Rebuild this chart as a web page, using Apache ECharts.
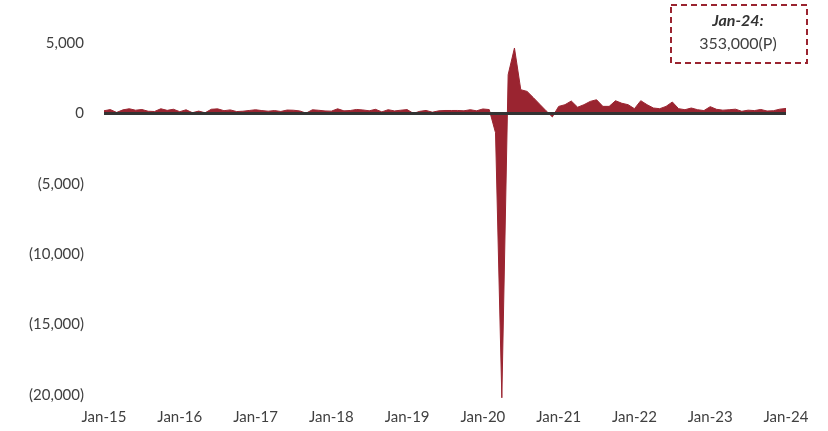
<!DOCTYPE html>
<html>
<head>
<meta charset="utf-8">
<script src="https://cdn.jsdelivr.net/npm/echarts@6/dist/echarts.min.js"></script>
<style>
  html, body { margin: 0; padding: 0; background: #fff; }
  #chart { width: 828px; height: 431px; }
</style>
</head>
<body>
<div id="chart"></div>
<script>
// monthly change, thousands
var years = ['15', '16', '17', '18', '19', '20', '21', '22', '23', '24'];
var monthNames = ['Jan', 'Feb', 'Mar', 'Apr', 'May', 'Jun', 'Jul', 'Aug', 'Sep', 'Oct', 'Nov', 'Dec'];

var values2015 = [190, 271, 70, 251, 330, 228, 277, 152, 136, 330, 215, 294];
var values2016 = [122, 256, 50, 164, 43, 294, 323, 193, 249, 131, 155, 208];
var values2017 = [259, 200, 158, 200, 138, 239, 225, 176, 18, 257, 222, 175];
var values2018 = [160, 328, 180, 207, 280, 244, 185, 289, 108, 263, 176, 227];
var values2019 = [269, 1, 147, 210, 85, 182, 207, 207, 208, 185, 261, 184];
var values2020 = [315, 273, -1373, -20200, 2750, 4645, 1683, 1563, 1115, 650, 190, -250];
var values2021 = [497, 618, 880, 440, 618, 852, 970, 500, 500, 900, 720, 618];
var values2022 = [334, 902, 618, 383, 334, 497, 810, 334, 263, 383, 263, 200];
var values2023 = [480, 290, 230, 260, 300, 150, 230, 200, 280, 170, 190, 300];
var values2024 = [353];

var yTicks = { min: -20000, max: 5000, step: 5000 };

var values = [].concat(values2015, values2016, values2017, values2018, values2019,
  values2020, values2021, values2022, values2023, values2024);

var categories = [];
years.forEach(function (y) {
  monthNames.forEach(function (m) {
    if (categories.length < values.length) categories.push(m + '-' + y);
  });
});

var red = '#9A2430';
var textColor = '#404040';
var font = 'Lato, "Open Sans", sans-serif';

function fmt(v) {
  var s = Math.abs(v).toString().replace(/\B(?=(\d{3})+(?!\d))/g, ',');
  return v < 0 ? '(' + s + ')' : s;
}

var chart = echarts.init(document.getElementById('chart'));
chart.setOption({
  animation: false,
  textStyle: { fontFamily: font },
  grid: { left: 104, right: 42, top: 43, bottom: 36 },
  xAxis: {
    type: 'category',
    data: categories,
    boundaryGap: false,
    axisLine: { show: false },
    axisTick: { show: false },
    axisLabel: {
      interval: 11,
      color: textColor,
      fontSize: 15,
      fontFamily: font,
      margin: 15
    },
    splitLine: { show: false }
  },
  yAxis: {
    type: 'value',
    min: yTicks.min,
    max: yTicks.max,
    interval: yTicks.step,
    axisLine: { show: false },
    axisTick: { show: false },
    splitLine: { show: false },
    axisLabel: {
      color: textColor,
      fontSize: 15,
      fontFamily: font,
      margin: 20,
      formatter: fmt
    }
  },
  series: [{
    type: 'line',
    data: values,
    symbol: 'none',
    clip: false,
    lineStyle: { color: red, width: 1 },
    itemStyle: { color: red },
    areaStyle: { color: red, opacity: 1 },
    markLine: {
      silent: true,
      symbol: 'none',
      label: { show: false },
      lineStyle: { color: '#333333', width: 3, type: 'solid' },
      data: [{ yAxis: 0 }]
    }
  }],
  graphic: [{
    type: 'rect',
    left: 670,
    top: 4,
    shape: { width: 136, height: 58 },
    style: { fill: '#fff', stroke: red, lineWidth: 2, lineDash: [6, 4] }
  }, {
    type: 'text',
    style: {
      text: 'Jan-24:',
      x: 738, y: 13,
      textAlign: 'center',
      fill: '#333',
      font: 'italic bold 16px ' + font
    }
  }, {
    type: 'text',
    style: {
      text: '353,000(P)',
      x: 738, y: 36,
      textAlign: 'center',
      fill: textColor,
      font: '16px ' + font
    }
  }]
});
</script>
</body>
</html>
